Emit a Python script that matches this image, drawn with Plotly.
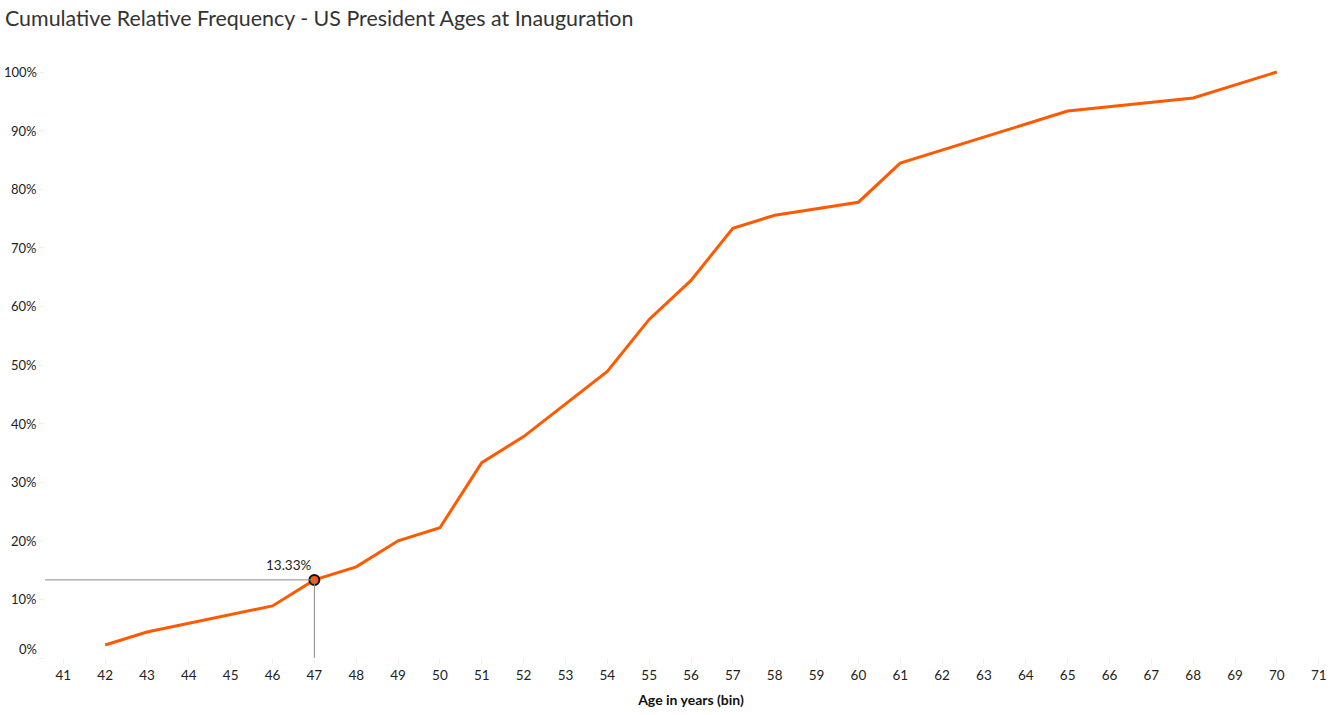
import plotly.graph_objects as go

# Data
ages = [42, 43, 46, 47, 48, 49, 50, 51, 52, 54, 55, 56, 57, 58, 60, 61, 65, 68, 70]
cum_rel_freq = [0.0222, 0.0444, 0.0889, 0.1333, 0.1556, 0.2000, 0.2222, 0.3333, 0.3778,
                0.4889, 0.5778, 0.6444, 0.7333, 0.7556, 0.7778, 0.8444, 0.9333, 0.9556, 1.0]
x_ticks = list(range(41, 72))
y_ticks = [0, 0.1, 0.2, 0.3, 0.4, 0.5, 0.6, 0.7, 0.8, 0.9, 1.0]
y_tick_labels = ["0%", "10%", "20%", "30%", "40%", "50%", "60%", "70%", "80%", "90%", "100%"]
highlight_age = 47
highlight_label = "13.33%"

hl_val = cum_rel_freq[ages.index(highlight_age)]

ORANGE = "#ff5a00"
FONT = "Lato"
X_RANGE = [40.563, 71.437]

fig = go.Figure()

# crosshair lines
fig.add_shape(type="line", xref="x domain", yref="y", x0=0,
              x1=(highlight_age - X_RANGE[0]) / (X_RANGE[1] - X_RANGE[0]),
              y0=hl_val, y1=hl_val, line=dict(color="#8a8a8a", width=1))
fig.add_shape(type="line", xref="x", yref="y", x0=highlight_age, x1=highlight_age,
              y0=hl_val, y1=-0.004, line=dict(color="#8a8a8a", width=1))

fig.add_trace(go.Scatter(x=ages, y=cum_rel_freq, mode="lines",
                         line=dict(color=ORANGE, width=3), hoverinfo="skip", showlegend=False))
fig.add_trace(go.Scatter(x=[highlight_age], y=[hl_val], mode="markers",
                         marker=dict(color=ORANGE, size=10, line=dict(color="#111111", width=2)),
                         hoverinfo="skip", showlegend=False))

annotations = [dict(x=highlight_age, y=hl_val, xref="x", yref="y", text=highlight_label,
                    showarrow=False, xanchor="right", yanchor="bottom", xshift=0, yshift=5,
                    font=dict(family=FONT, size=13.5, color="#222222"))]
for v, t in zip(y_ticks, y_tick_labels):
    annotations.append(dict(x=0, y=v, xref="paper", yref="y", text=t, showarrow=False,
                            xanchor="right", yanchor="middle", xshift=-6,
                            yshift=9 if v == 0 else 0,
                            font=dict(family=FONT, size=13, color="#222222")))

fig.update_layout(
    width=1337, height=715,
    margin=dict(l=45, r=0, t=60, b=57),
    paper_bgcolor="white", plot_bgcolor="white",
    title=dict(text="Cumulative Relative Frequency - US President Ages at Inauguration",
               x=5 / 1337, xanchor="left", y=1 - 19 / 715, yanchor="middle",
               font=dict(family=FONT, size=21.4, color="#333333")),
    xaxis=dict(range=X_RANGE, tickmode="array", tickvals=x_ticks,
               ticktext=[str(v) for v in x_ticks], showgrid=False, zeroline=False,
               showline=False, ticks="outside", ticklen=5, tickcolor="#eeeeee",
               tickfont=dict(family=FONT, size=13.5, color="#222222"),
               title=dict(text="<b>Age in years (bin)</b>", standoff=12,
                          font=dict(family=FONT, size=14, color="#111111"))),
    yaxis=dict(range=[0, 1.0205], tickvals=y_ticks, showticklabels=False, showgrid=False,
               zeroline=False, showline=False, ticks="outside", ticklen=5, tickcolor="#eeeeee"),
    annotations=annotations,
)

fig.write_html("out.html", config={"displayModeBar": False},
               post_script="document.body.style.margin='0';")
